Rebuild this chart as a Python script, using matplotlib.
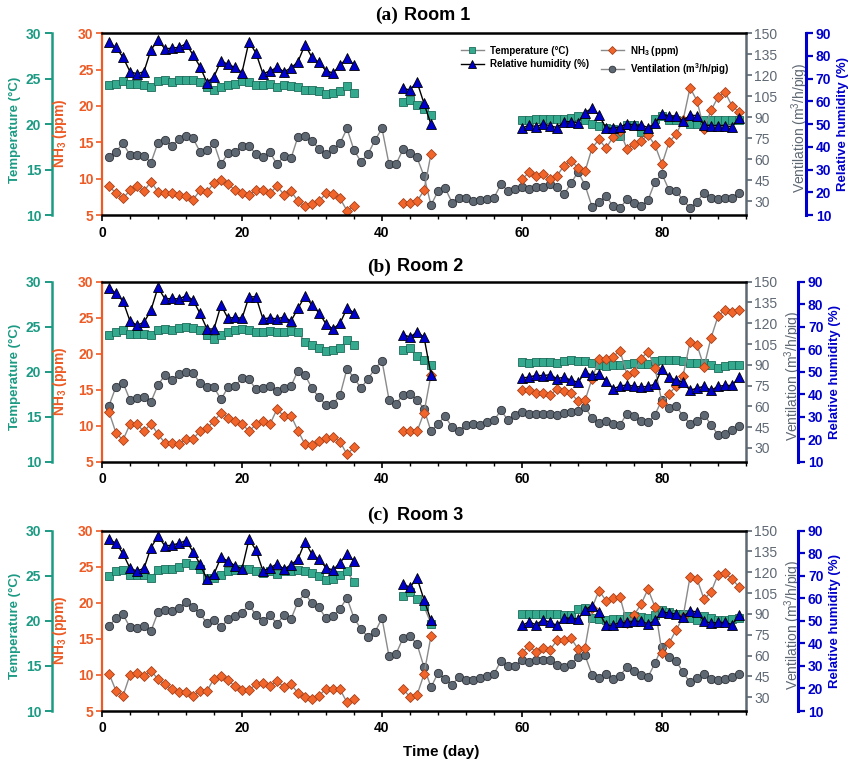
import numpy as np
import matplotlib
matplotlib.use('Agg')
import matplotlib.pyplot as plt
from matplotlib.ticker import MultipleLocator

plt.rcParams['font.family'] = ['Liberation Sans', 'DejaVu Sans']
plt.rcParams['mathtext.default'] = 'regular'

# measurement days (gaps between batches)
seg_days = list(range(1, 37)) + list(range(43, 48)) + list(range(60, 92))
vent_days = list(range(1, 92))

# ---------------- Room 1 ----------------
temp_r1 = [24.3, 24.4, 24.7, 24.4, 24.4, 24.3, 24.1, 24.7, 24.8, 24.6, 24.9, 24.9, 24.8, 24.6, 24.1, 23.8,
           24.1, 24.3, 24.4, 24.7, 24.6, 24.3, 24.3, 24.4, 24.1, 24.3, 24.2, 24.1, 23.8, 23.8, 23.6, 23.3,
           23.4, 23.6, 24.2, 23.4,
           22.4, 22.6, 22.1, 21.7, 21.0,
           20.5, 20.5, 20.6, 20.6, 20.6, 20.6, 20.6, 20.7, 20.9, 20.5, 20.0, 19.8, 19.6, 19.5, 18.7, 19.9,
           19.9, 19.1, 19.1, 20.6, 20.9, 20.4, 20.4, 20.3, 20.0, 20.0, 20.4, 20.4, 20.4, 20.4, 20.4, 20.4]
rh_r1 = [85.9, 83.7, 79.4, 73.1, 72.1, 73.1, 82.7, 86.8, 83.1, 83.4, 83.8, 85.3, 80.5, 75.3, 68.3, 70.9,
         77.8, 76.3, 74.9, 72.7, 86.3, 81.2, 72.1, 73.4, 74.9, 73.1, 74.6, 77.5, 84.9, 79.3, 77.2, 73.4,
         72.5, 75.8, 79.0, 76.1,
         65.7, 65.0, 68.6, 59.1, 49.9,
         48.2, 49.6, 48.9, 50.1, 49.3, 48.5, 51.0, 51.1, 50.7, 55.1, 57.0, 54.0, 48.2, 48.2, 48.9, 50.1,
         49.6, 49.6, 48.5, 50.4, 54.3, 53.7, 53.6, 51.4, 54.0, 53.7, 49.6, 49.3, 49.3, 49.3, 48.9, 52.6]
nh3_r1 = [9.0, 8.0, 7.3, 8.4, 9.0, 8.3, 9.6, 8.2, 8.1, 8.0, 7.8, 7.6, 7.1, 8.4, 8.2, 9.4,
          9.8, 9.3, 8.4, 8.0, 7.8, 8.4, 8.4, 8.0, 9.0, 7.8, 8.3, 6.9, 6.2, 6.5, 6.9, 8.0,
          7.9, 7.3, 5.6, 6.3,
          6.6, 6.6, 6.9, 8.4, 13.4,
          9.9, 10.9, 10.4, 10.7, 9.9, 10.4, 11.8, 12.5, 11.5, 11.0, 14.2, 15.4, 14.2, 15.7, 16.5, 14.1,
          14.8, 15.2, 16.0, 14.6, 12.0, 15.0, 16.1, 18.0, 22.5, 20.7, 16.8, 19.4, 21.2, 21.9, 20.0, 19.2]
vent_r1 = [61.7, 65.3, 71.3, 62.9, 62.9, 62.5, 57.5, 71.8, 73.7, 69.6, 74.2, 76.5, 74.9, 65.3, 66.5, 71.3,
           56.3, 64.1, 65.3, 69.6, 69.6, 63.4, 61.3, 64.8, 56.3, 62.2, 60.6, 76.1, 76.8, 73.2, 67.2, 63.7,
           67.1, 71.2, 81.9, 66.4, 58.1, 63.6, 73.6, 81.9, 56.4, 56.4, 66.9, 64.5, 61.2, 47.9, 27.1, 37.1,
           39.5, 29.0, 32.4, 31.9, 30.0, 30.7, 31.2, 32.4, 42.1, 37.4, 38.6, 40.2, 38.6, 40.2, 40.2, 42.1,
           40.2, 34.8, 42.6, 51.0, 41.4, 26.0, 29.5, 33.6, 26.4, 25.2, 31.2, 28.3, 26.4, 30.7, 43.8, 49.3,
           37.9, 37.4, 30.7, 25.2, 29.5, 36.0, 31.9, 31.2, 31.9, 32.4, 35.5]

# ---------------- Room 2 ----------------
temp_r2 = [24.1, 24.4, 24.6, 24.2, 24.2, 24.2, 24.1, 24.6, 24.8, 24.6, 24.9, 25.0, 24.9, 24.6, 24.1, 23.6,
           24.1, 24.4, 24.6, 24.8, 24.6, 24.4, 24.4, 24.5, 24.4, 24.4, 24.5, 24.4, 23.3, 23.0, 22.6, 22.3,
           22.4, 22.6, 23.5, 23.0,
           22.4, 22.6, 21.7, 21.3, 20.7,
           21.1, 21.0, 21.1, 21.1, 21.1, 21.0, 21.2, 21.3, 21.2, 21.2, 21.0, 20.7, 20.6, 20.8, 20.8, 20.9,
           21.0, 20.9, 20.9, 21.2, 21.3, 21.3, 21.3, 21.2, 21.0, 21.0, 21.0, 20.7, 20.4, 20.6, 20.7, 20.8]
rh_r2 = [87.3, 84.8, 81.4, 72.5, 70.7, 71.9, 77.4, 87.5, 82.3, 82.6, 82.3, 83.8, 81.9, 75.9, 69.0, 69.0,
         79.6, 73.7, 74.2, 73.7, 83.3, 83.3, 73.4, 74.0, 73.4, 74.4, 72.5, 78.2, 83.6, 79.6, 76.2, 71.2,
         69.0, 71.5, 78.2, 76.2,
         66.5, 65.4, 67.6, 65.4, 48.7,
         47.2, 47.6, 48.4, 48.2, 48.7, 46.9, 47.6, 46.2, 45.3, 49.7, 48.4, 49.1, 46.0, 42.5, 43.5, 44.2,
         43.5, 43.2, 43.5, 44.5, 51.2, 47.6, 46.2, 45.4, 41.7, 42.7, 43.5, 41.7, 43.5, 43.9, 43.9, 47.5]
nh3_r2 = [11.9, 9.0, 8.0, 10.2, 10.2, 9.2, 10.3, 8.8, 7.6, 7.6, 7.5, 8.1, 8.1, 9.3, 9.7, 10.6,
          11.8, 11.1, 10.7, 10.3, 9.2, 10.2, 10.7, 10.2, 12.3, 11.3, 11.4, 9.3, 7.4, 7.3, 7.9, 8.3,
          8.4, 7.8, 6.0, 7.0,
          9.2, 9.2, 9.2, 11.8, 17.1,
          15.0, 14.9, 14.5, 14.6, 14.2, 15.1, 14.8, 14.5, 13.4, 13.5, 16.5, 19.2, 19.3, 19.6, 20.4, 17.1,
          17.4, 19.3, 20.3, 18.0, 13.2, 14.4, 15.5, 16.9, 21.6, 21.2, 18.2, 22.2, 25.2, 26.1, 25.8, 26.1]
vent_r2 = [60.5, 74.2, 77.1, 64.6, 65.8, 67.0, 63.3, 75.4, 82.6, 79.0, 83.3, 85.0, 84.3, 76.6, 73.7, 73.7,
           65.0, 73.7, 74.7, 80.2, 79.5, 72.3, 73.5, 74.7, 71.0, 73.0, 74.7, 85.7, 82.6, 73.0, 66.5, 60.9,
           61.7, 67.9, 87.2, 80.4, 73.2, 79.9, 87.2, 92.9, 64.8, 61.7, 68.4, 69.1, 64.8, 58.1, 41.9, 47.5,
           52.8, 45.1, 42.4, 46.7, 47.5, 46.7, 48.4, 49.9, 57.1, 49.9, 53.5, 55.6, 54.4, 54.4, 54.7, 54.7,
           53.5, 55.2, 55.6, 56.8, 59.5, 51.6, 48.0, 49.6, 47.5, 46.7, 54.7, 53.2, 49.6, 48.4, 54.0, 64.8,
           58.8, 60.0, 53.2, 47.5, 49.6, 54.0, 46.7, 39.5, 40.2, 42.6, 46.0]

# ---------------- Room 3 ----------------
temp_r3 = [25.0, 25.5, 25.6, 25.1, 25.1, 25.1, 24.8, 25.6, 25.8, 25.8, 26.0, 26.4, 26.2, 25.7, 24.8, 24.8,
           25.1, 25.5, 25.6, 25.8, 25.7, 25.5, 25.3, 25.5, 25.2, 25.5, 25.5, 25.6, 25.5, 25.3, 25.0, 24.5,
           24.6, 25.1, 25.5, 24.3,
           22.8, 23.2, 22.4, 21.6, 19.7,
           20.8, 20.8, 20.8, 20.8, 20.8, 20.8, 20.6, 20.6, 21.3, 21.4, 20.3, 20.2, 20.1, 20.2, 20.2, 20.5,
           20.5, 20.4, 20.3, 20.6, 21.2, 21.0, 20.8, 20.8, 20.3, 20.1, 20.5, 20.3, 20.1, 20.1, 20.2, 20.3]
rh_r3 = [86.2, 84.4, 79.9, 73.3, 72.1, 73.3, 82.5, 87.6, 83.2, 83.6, 84.4, 85.6, 80.7, 75.2, 68.4, 70.8,
         78.2, 76.5, 74.5, 73.0, 86.2, 81.4, 72.1, 73.6, 75.2, 73.0, 74.8, 77.4, 85.1, 79.5, 77.3, 73.6,
         72.5, 75.8, 79.6, 76.5,
         66.3, 64.9, 69.0, 59.4, 50.2,
         48.0, 49.5, 48.3, 50.5, 49.3, 48.0, 51.2, 51.2, 50.8, 54.9, 56.7, 53.9, 48.0, 48.0, 49.3, 49.3,
         49.8, 49.8, 48.6, 50.2, 53.9, 53.5, 53.0, 51.5, 54.5, 53.9, 49.8, 49.0, 49.3, 49.3, 48.3, 52.4]
nh3_r3 = [10.2, 7.8, 7.1, 10.0, 10.3, 9.8, 10.6, 9.4, 8.7, 8.0, 7.6, 7.6, 7.1, 7.8, 7.8, 9.5,
          9.8, 9.3, 8.4, 7.9, 7.9, 8.7, 8.9, 8.4, 9.2, 8.3, 8.7, 7.5, 6.9, 6.7, 7.1, 8.1,
          8.1, 8.0, 6.2, 6.7,
          8.0, 7.0, 7.2, 10.1, 15.4,
          13.1, 14.0, 13.2, 13.8, 13.5, 14.8, 14.9, 15.1, 13.6, 13.8, 19.3, 21.7, 20.3, 20.6, 20.8, 17.2,
          18.3, 19.8, 21.9, 19.4, 13.1, 14.4, 16.2, 18.0, 23.6, 23.3, 20.5, 21.5, 23.9, 24.1, 23.3, 22.2]
vent_r3 = [81.3, 86.8, 89.7, 80.3, 79.6, 81.5, 77.7, 91.1, 92.8, 92.1, 94.0, 98.8, 94.7, 90.4, 83.2, 85.6,
           80.3, 86.1, 88.5, 90.9, 96.4, 89.2, 85.1, 89.2, 82.7, 89.2, 86.3, 98.8, 104.8, 97.6, 94.7, 86.8,
           88.2, 93.8, 101.5, 87.0, 79.1, 73.3, 76.9, 87.0, 59.4, 61.1, 72.6, 73.8, 68.3, 51.7, 37.1, 47.4,
           43.3, 39.0, 44.5, 42.6, 42.6, 43.8, 45.0, 46.7, 56.3, 52.2, 52.7, 56.5, 55.1, 56.5, 56.5, 56.5,
           52.9, 51.7, 54.1, 58.7, 60.1, 46.2, 43.8, 46.9, 43.1, 45.5, 51.7, 48.6, 46.2, 44.5, 54.6, 66.1,
           58.7, 56.3, 47.9, 40.7, 43.8, 46.9, 43.1, 42.6, 43.1, 44.5, 46.7]

TEAL = '#1c9a83'
ORANGE = '#ee5a24'
GRAY = '#5e6873'
BLUE = '#0000cc'


def gapped(days, vals):
    d = np.array(days, float)
    v = np.array(vals, float)
    brk = np.where(np.diff(d) > 1)[0] + 1
    return np.insert(d, brk, np.nan), np.insert(v, brk, np.nan)


fig = plt.figure(figsize=(8.57, 7.71), dpi=100)


def draw_panel(rect, letter, room, temp, rh, nh3, vent, title_y, title_x,
               rh_pos, vlab_x, rhlab_x, legend=False):
    ax = fig.add_axes(rect)          # NH3 (host, carries x axis)
    ax_v = ax.twinx()                # ventilation
    ax_t = ax.twinx()                # temperature
    ax_r = ax.twinx()                # relative humidity
    ax_v.set_zorder(1)
    ax_t.set_zorder(2)
    ax.set_zorder(3)
    ax_r.set_zorder(4)
    ax.patch.set_visible(False)

    x, y = gapped(vent_days, vent)
    lv, = ax_v.plot(x, y, '-o', color='#8a8a8a', lw=1, ms=6, mfc=GRAY, mec='#2e3238', mew=0.6,
                    label='Ventilation (m$^3$/h/pig)')
    x, y = gapped(seg_days, temp)
    lt, = ax_t.plot(x, y, '-s', color='#8a8a8a', lw=1, ms=5.5, mfc='#35a98e', mec='#1d6b5a', mew=0.6,
                    label='Temperature (\u00b0C)')
    x, y = gapped(seg_days, nh3)
    ln, = ax.plot(x, y, '-D', color='#8a8a8a', lw=1, ms=5.2, mfc='#f2652a', mec='#a8401a', mew=0.6,
                  label='NH$_3$ (ppm)')
    x, y = gapped(seg_days, rh)
    lr, = ax_r.plot(x, y, '-^', color='black', lw=1, ms=6.5, mfc=BLUE, mec='black', mew=0.6,
                    label='Relative humidity (%)')

    ax.set_xlim(0, 92)
    ax.xaxis.set_major_locator(MultipleLocator(20))
    ax.xaxis.set_minor_locator(MultipleLocator(4))
    ax.tick_params(axis='x', which='major', length=4, width=1.2, direction='out', labelsize=10)
    ax.tick_params(axis='x', which='minor', length=3, width=1, direction='out')
    for lab in ax.get_xticklabels():
        lab.set_fontweight('bold')

    # NH3 axis (left spine of host)
    ax.set_ylim(5, 30)
    ax.yaxis.set_major_locator(MultipleLocator(5))
    ax.spines['left'].set_color(ORANGE)
    ax.spines['left'].set_linewidth(1.6)
    ax.spines['right'].set_visible(False)
    for s in ('top', 'bottom'):
        ax.spines[s].set_linewidth(1.8)
    ax.tick_params(axis='y', colors=ORANGE, length=4, width=1.2, labelsize=10, pad=2)
    ax.set_ylabel('NH$_3$ (ppm)', color=ORANGE, fontsize=10, fontweight='bold')
    ax.yaxis.set_label_coords(-0.051, 0.45)

    # ventilation axis
    ax_v.set_ylim(20, 150)
    ax_v.set_yticks(np.arange(30, 151, 15))
    for s in ('top', 'bottom', 'left'):
        ax_v.spines[s].set_visible(False)
    ax_v.spines['right'].set_color(GRAY)
    ax_v.spines['right'].set_linewidth(1.8)
    ax_v.tick_params(axis='y', colors=GRAY, length=4, width=1.2, labelsize=10, pad=2)
    ax_v.set_ylabel('Ventilation (m$^3$/h/pig)', color=GRAY, fontsize=10)
    ax_v.yaxis.set_label_coords(vlab_x, 0.48)

    # temperature axis (outer left)
    ax_t.set_ylim(10, 30)
    ax_t.yaxis.set_major_locator(MultipleLocator(5))
    ax_t.yaxis.tick_left()
    ax_t.yaxis.set_label_position('left')
    for s in ('top', 'bottom', 'right'):
        ax_t.spines[s].set_visible(False)
    ax_t.spines['left'].set_visible(True)
    ax_t.spines['left'].set_position(('axes', -0.0772))
    ax_t.spines['left'].set_color(TEAL)
    ax_t.spines['left'].set_linewidth(1.8)
    ax_t.tick_params(axis='y', colors=TEAL, length=5, width=1.4, labelsize=10, pad=3)
    ax_t.set_ylabel('Temperature (\u00b0C)', color=TEAL, fontsize=9.5, fontweight='bold')
    ax_t.yaxis.set_label_coords(-0.126, 0.47)

    # relative humidity axis (outer right)
    ax_r.set_ylim(10, 90)
    ax_r.yaxis.set_major_locator(MultipleLocator(10))
    for s in ('top', 'bottom', 'left'):
        ax_r.spines[s].set_visible(False)
    ax_r.spines['right'].set_position(('axes', rh_pos))
    ax_r.spines['right'].set_color(BLUE)
    ax_r.spines['right'].set_linewidth(2.2)
    ax_r.tick_params(axis='y', colors=BLUE, length=5, width=1.6, labelsize=10, pad=2)
    ax_r.set_ylabel('Relative humidity (%)', color=BLUE, fontsize=9.5, fontweight='bold')
    ax_r.yaxis.set_label_coords(rhlab_x, 0.5)

    for a in (ax, ax_t, ax_r):
        for lab in a.get_yticklabels():
            lab.set_fontweight('bold')

    fig.text(title_x[0], title_y, '(%s)' % letter, family='Liberation Serif', fontweight='bold',
             fontsize=14, ha='right', va='center')
    fig.text(title_x[1], title_y, room, fontweight='bold', fontsize=13, ha='left', va='center')

    if legend:
        ax.legend([lt, lr, ln, lv], [lt.get_label(), lr.get_label(), ln.get_label(), lv.get_label()],
                  ncol=2, loc='upper left', bbox_to_anchor=(0.545, 0.985), frameon=False,
                  prop={'weight': 'bold', 'size': 7}, handlelength=2.4, handletextpad=0.6,
                  columnspacing=1.2, labelspacing=0.35, borderpad=0.3, markerscale=0.8)
    return ax


draw_panel([0.119, 0.721, 0.7515, 0.236], 'a', 'Room 1', temp_r1, rh_r1, nh3_r1, vent_r1,
           0.9805, (398 / 857, 404 / 857), 1.093, 1.067, 1.141, legend=True)
draw_panel([0.119, 0.4012, 0.7515, 0.2334], 'b', 'Room 2', temp_r2, rh_r2, nh3_r2, vent_r2,
           0.6537, (391 / 857, 397 / 857), 1.081, 1.056, 1.129)
draw_panel([0.119, 0.0778, 0.7515, 0.2339], 'c', 'Room 3', temp_r3, rh_r3, nh3_r3, vent_r3,
           0.332, (389 / 857, 397 / 857), 1.081, 1.056, 1.129)

fig.text(441 / 857, 1 - 752 / 771, 'Time (day)', fontweight='bold', fontsize=11, ha='center', va='center')

fig.savefig('out.png', dpi=100, facecolor='white')
